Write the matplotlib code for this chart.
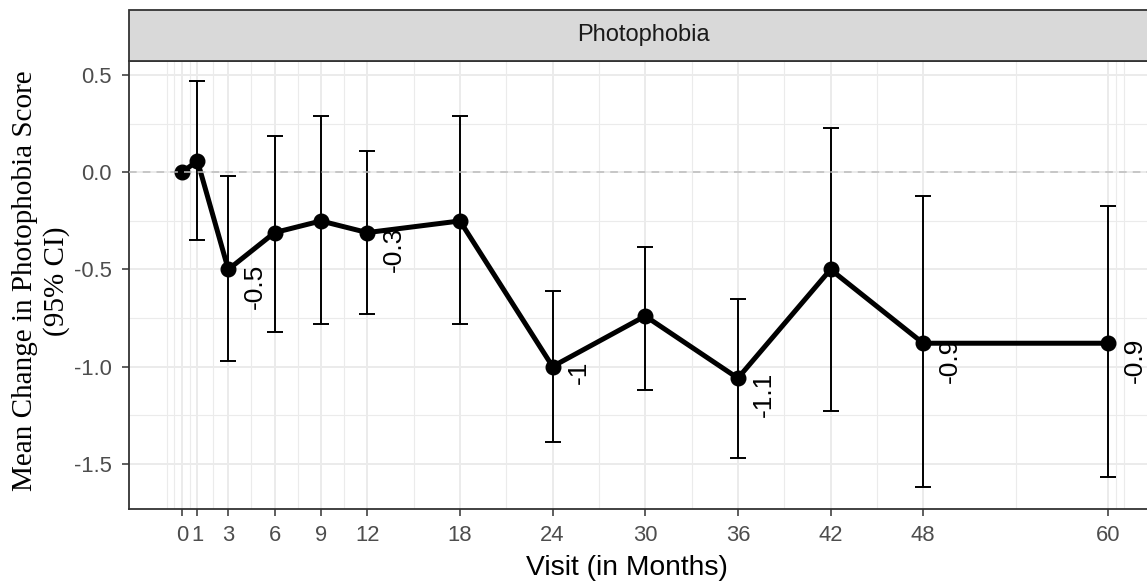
import matplotlib
matplotlib.use("Agg")
import matplotlib.pyplot as plt
from matplotlib.patches import Rectangle

# Mean change in photophobia score by visit month, with 95% CI
visits = [0, 1, 3, 6, 9, 12, 18, 24, 30, 36, 42, 48, 60]
mean_change = [0.0, 0.06, -0.50, -0.31, -0.25, -0.31, -0.25, -1.00, -0.74, -1.06, -0.50, -0.88, -0.88]
ci_lower = [0.0, -0.35, -0.97, -0.82, -0.78, -0.73, -0.78, -1.39, -1.12, -1.47, -1.23, -1.62, -1.57]
ci_upper = [0.0, 0.47, -0.02, 0.19, 0.29, 0.11, 0.29, -0.61, -0.385, -0.65, 0.23, -0.12, -0.175]
show_label = [False, False, True, False, False, True, False, True, False, True, False, True, True]

x_ticks = [0, 1, 3, 6, 9, 12, 18, 24, 30, 36, 42, 48, 60]
x_minor = [-1, -0.5, 0.5, 2, 4.5, 7.5, 10.5, 15, 21, 27, 33, 39, 45, 54, 60.5, 61]
y_ticks = [0.5, 0.0, -0.5, -1.0, -1.5]
y_minor = [0.25, -0.25, -0.75, -1.25]

facet_title = "Photophobia"
x_title = "Visit (in Months)"
y_title_1 = "Mean Change in Photophobia Score"
y_title_2 = "(95% CI)"

W, H = 1147, 584
DPI = 100
SANS = ["Liberation Sans", "DejaVu Sans"]
SERIF = ["Liberation Serif", "DejaVu Serif"]

fig = plt.figure(figsize=(W / DPI, H / DPI), dpi=DPI)
fig.patch.set_facecolor("white")

# panel in pixel coordinates (right edge runs past the canvas)
pl, pr, pt, pb = 129, 1161, 61, 509
ax = fig.add_axes([pl / W, 1 - pb / H, (pr - pl) / W, (pb - pt) / H])
ax.set_xlim(-3.43, 63.4)
ax.set_ylim(-1.734, 0.574)
ax.set_facecolor("white")

grid_col = "#EBEBEB"
for v in x_minor:
    ax.axvline(v, color=grid_col, lw=0.8, zorder=0)
for v in y_minor:
    ax.axhline(v, color=grid_col, lw=0.8, zorder=0)
for v in x_ticks:
    ax.axvline(v, color=grid_col, lw=1.4, zorder=0.1)
for v in y_ticks:
    ax.axhline(v, color=grid_col, lw=1.4, zorder=0.1)

# confidence intervals
yerr = [[m - lo for m, lo in zip(mean_change, ci_lower)],
        [hi - m for m, hi in zip(mean_change, ci_upper)]]
ax.errorbar(visits, mean_change, yerr=yerr, fmt="none", ecolor="black",
            elinewidth=1.4, capsize=5.5, capthick=1.4, zorder=2)

# value labels (drawn beneath the trajectory)
for x, m, s in zip(visits, mean_change, show_label):
    if not s:
        continue
    txt = f"{round(m, 1):g}"
    ax.annotate(txt, (x, m), xytext=(24, 4.3), textcoords="offset points",
                rotation=90, rotation_mode="anchor", ha="right", va="baseline",
                fontsize=19, family=SANS, color="black", zorder=2.5)

# mean trajectory
ax.plot(visits, mean_change, color="black", lw=3.6, zorder=3,
        solid_joinstyle="round")
ax.plot(visits, mean_change, "o", color="black", ms=10.5, zorder=4)

# reference line at zero
ax.axhline(0, color="#BDBDBD", lw=1.1, linestyle=(0, (5, 4)), zorder=5)

ax.set_xticks(x_ticks)
ax.set_xticklabels([str(v) for v in x_ticks])
ax.set_yticks(y_ticks)
ax.set_yticklabels([f"{v:.1f}" for v in y_ticks])
ax.tick_params(axis="both", length=5, width=1.1, color="#333333",
               labelcolor="#4D4D4D", labelsize=15.8)
ax.tick_params(axis="x", pad=6.5)
ax.tick_params(axis="y", pad=7.2)
for lab in ax.get_xticklabels() + ax.get_yticklabels():
    lab.set_family(SANS)

for sp in ax.spines.values():
    sp.set_color("#333333")
    sp.set_linewidth(1.3)
ax.spines["right"].set_visible(False)

# facet strip
st, sb = 10, 61
fig.patches.append(Rectangle((pl / W, 1 - sb / H), (pr - pl) / W, (sb - st) / H,
                             transform=fig.transFigure, facecolor="#D9D9D9",
                             edgecolor="#333333", lw=1.3, zorder=1))
fig.text(643.5 / W, 1 - (st + sb) / 2 / H, facet_title, ha="center", va="center",
         fontsize=17, family=SANS, color="#1A1A1A")

# axis titles
fig.text(627 / W, 1 - 568 / H, x_title, ha="center", va="center",
         fontsize=20.3, family=SANS, color="black")
fig.text(25 / W, 1 - 281 / H, y_title_1, ha="center", va="center", rotation=90,
         fontsize=21, family=SERIF, color="black")
fig.text(57 / W, 1 - 281 / H, y_title_2, ha="center", va="center", rotation=90,
         fontsize=21, family=SERIF, color="black")

fig.savefig("out.png", dpi=DPI)
